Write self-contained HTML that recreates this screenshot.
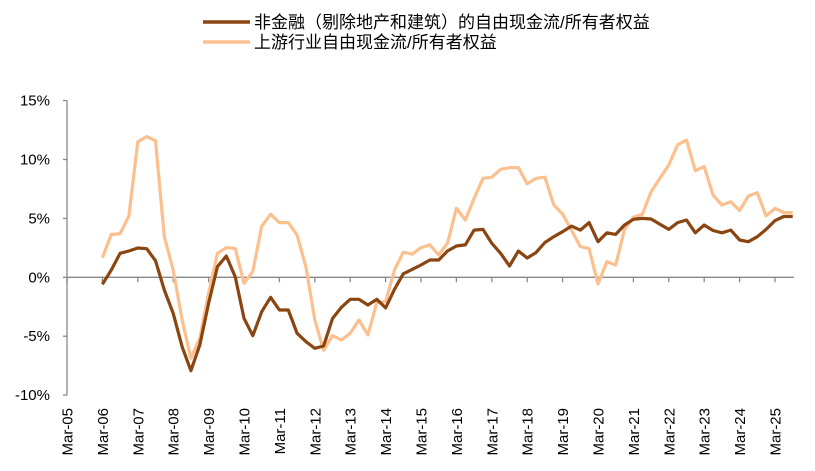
<!DOCTYPE html>
<html><head><meta charset="utf-8"><style>
body{margin:0;background:#fff;}
svg{display:block;font-family:"Liberation Sans","Noto Sans CJK SC",sans-serif;}
</style></head><body>
<svg id="chart" width="815" height="471">
<g id="legend">
<g>
<line x1="203" y1="22" x2="250" y2="22" stroke="#8B4511" stroke-width="3.5"/>
<text x="254" y="28" font-size="17" fill="#000">非金融（剔除地产和建筑）的自由现金流/所有者权益</text></g>
<g>
<line x1="203" y1="42" x2="250" y2="42" stroke="#FCC08E" stroke-width="3.5"/>
<text x="254" y="48" font-size="17" fill="#000">上游行业自由现金流/所有者权益</text></g>
</g>
<g id="axes"></g>
<g id="series"></g>
</svg>
<script>
const xLabels=["Mar-05","Mar-06","Mar-07","Mar-08","Mar-09","Mar-10","Mar-11","Mar-12","Mar-13","Mar-14","Mar-15","Mar-16","Mar-17","Mar-18","Mar-19","Mar-20","Mar-21","Mar-22","Mar-23","Mar-24","Mar-25"];
const yTicks=[15,10,5,0,-5,-10];
const nonFinancial=[-0.59,0.62,2.04,2.23,2.49,2.43,1.41,-1.08,-3.06,-5.89,-7.93,-5.75,-2.21,0.90,1.81,0.05,-3.48,-4.96,-2.92,-1.70,-2.78,-2.78,-4.75,-5.46,-6.03,-5.83,-3.5,-2.55,-1.87,-1.87,-2.35,-1.87,-2.6,-1.02,0.30,0.67,1.04,1.47,1.47,2.23,2.66,2.75,4.01,4.07,2.89,2.04,0.96,2.23,1.64,2.1,2.95,3.45,3.87,4.35,4.01,4.64,3.02,3.78,3.64,4.44,4.92,5.0,4.95,4.5,4.07,4.64,4.86,3.78,4.44,3.97,3.78,4.01,3.17,3.02,3.45,4.07,4.81,5.16,5.16];
const upstream=[1.66,3.63,3.71,5.2,11.5,11.94,11.6,3.45,0.62,-3.62,-6.87,-5.17,-1.36,2.04,2.51,2.45,-0.51,0.48,4.35,5.35,4.64,4.64,3.57,0.9,-3.62,-6.2,-4.95,-5.32,-4.75,-3.62,-4.9,-2.15,-2.07,0.62,2.13,1.96,2.51,2.75,1.9,2.89,5.86,4.86,6.7,8.4,8.5,9.17,9.3,9.3,7.94,8.4,8.5,6.14,5.37,4.01,2.61,2.43,-0.57,1.33,1.04,4.07,5.11,5.35,7.27,8.4,9.53,11.25,11.65,9.05,9.4,6.99,6.14,6.42,5.66,6.9,7.17,5.21,5.86,5.49,5.49];
const NS="http://www.w3.org/2000/svg";
const x0=67,yearW=35.4,firstIdxX=x0+yearW;
const xq=i=>firstIdxX+i*yearW/4;
const yv=v=>277.3-v*11.78;
const axes=document.getElementById('axes'),series=document.getElementById('series');
function mk(tag,attrs,parent){const e=document.createElementNS(NS,tag);for(const k in attrs)e.setAttribute(k,attrs[k]);parent.appendChild(e);return e;}
// y axis
const ya=mk('line',{x1:x0,y1:yv(15),x2:x0,y2:yv(-10),stroke:'#888','stroke-width':1.3},axes);


yTicks.forEach(t=>{
  const tk=mk('line',{x1:x0-4,y1:yv(t),x2:x0,y2:yv(t),stroke:'#888','stroke-width':1.3},axes);
  
  
  const tx=mk('text',{x:50,y:yv(t)+5,'text-anchor':'end','font-size':15,fill:'#000'},axes);
  tx.textContent=t+'%';
  
  
});
// x axis
const xa=mk('line',{x1:x0,y1:yv(0),x2:794,y2:yv(0),stroke:'#888','stroke-width':1.3},axes);


xLabels.forEach((l,k)=>{
  const x=x0+k*yearW;
  const tk=mk('line',{x1:x,y1:yv(0),x2:x,y2:yv(0)+5,stroke:'#888','stroke-width':1.3},axes);
  
  
  const tx=mk('text',{x:0,y:0,'text-anchor':'end','font-size':15,fill:'#000',transform:`translate(${x+5.5},408) rotate(-90)`},axes);
  tx.textContent=l;
  
  
});
function line(data,color,name){
  const d=data.map((v,i)=>(i?'L':'M')+xq(i).toFixed(1)+','+yv(v).toFixed(1)).join('');
  const p=mk('path',{d:d,fill:'none',stroke:color,'stroke-width':3.2,'stroke-linejoin':'round'},series);
  
  
}
line(upstream,'#FCC08E','upstream-fcf-line');
line(nonFinancial,'#8B4511','nonfinancial-fcf-line');
</script>
</body></html>
